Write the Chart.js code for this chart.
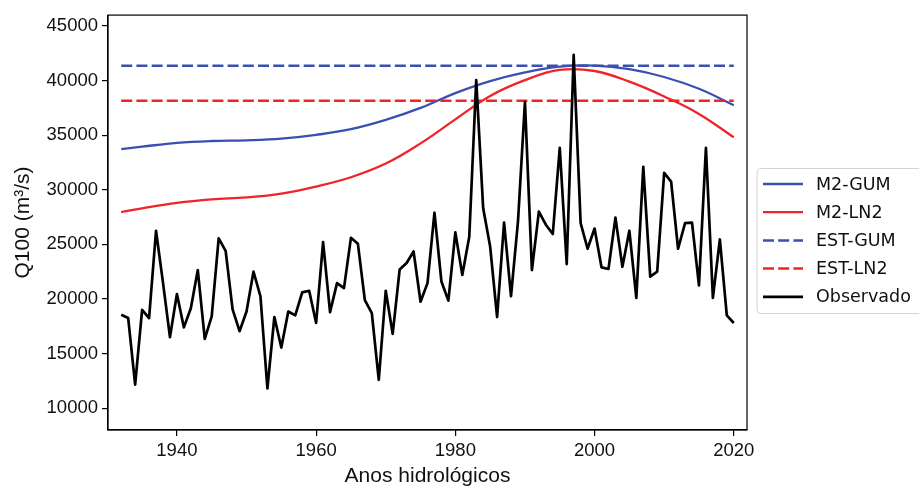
<!DOCTYPE html>
<html>
<head>
<meta charset="utf-8">
<script src="https://cdn.jsdelivr.net/npm/chart.js@4.4.1/dist/chart.umd.min.js"></script>
<style>
html,body{margin:0;padding:0;background:#fff;}
#wrap{width:919px;height:487px;position:relative;}
</style>
</head>
<body>
<div id="wrap"><canvas id="c" width="919" height="487"></canvas></div>
<script>
// ---------------- DATA ----------------
const firstYear = 1932;
const lastYear = 2020;
const observed = [
  18550,18250,12150,19000,18250,26250,21500,16500,
  20450,17400,19150,22650,16350,18400,25550,24400,19050,17050,
  18850,22500,20250,11800,18350,15550,18850,18500,20600,20750,
  17800,25200,18800,21450,21000,25600,25050,19900,18700,12600,
  20750,16800,22700,23300,24350,19750,21450,27900,21600,19850,
  26100,22200,25700,40050,28300,24800,18350,27000,20250,27100,
  38050,22650,28000,26800,25950,33850,23200,42350,26950,24600,
  26450,22900,22750,27450,22950,26250,20100,32100,22050,22500,
  31550,30750,24600,26950,27000,21250,33850,20100,25450,18500,
  17800
];
const curveYears = [1932,1935,1940,1945,1950,1955,1960,1965,1970,1975,1980,1985,1990,1995,2000,2005,2010,2015,2020];
const m2Gum = [33730,33950,34300,34470,34530,34680,35030,35550,36400,37500,38850,39950,40750,41280,41380,41050,40330,39250,37750];
const m2Ln2 = [27950,28300,28800,29120,29300,29650,30300,31150,32400,34250,36450,38600,40050,40980,40880,39900,38550,36950,34800];
const estYears = [1932, 2020];
const estGum = [41350, 41350];
const estLn2 = [38160, 38160];
const xTicks = [1940, 1960, 1980, 2000, 2020];
const yTicks = [10000, 15000, 20000, 25000, 30000, 35000, 40000, 45000];
const seriesLabels = ['M2-GUM', 'M2-LN2', 'EST-GUM', 'EST-LN2', 'Observado'];

// ---------------- BUILD ----------------
const years = [];
for (let y = firstYear; y <= lastYear; y++) years.push(y);
const pts = (xs, ys) => xs.map((x, i) => ({x: x, y: ys[i]}));

const BLUE = '#3a50b0';
const RED = '#f0232a';

const frameBorder = {
  id: 'frameBorder',
  afterDatasetsDraw(chart) {
    const a = chart.chartArea, ctx = chart.ctx;
    ctx.save();
    ctx.strokeStyle = '#000';
    ctx.lineWidth = 1.2;
    ctx.strokeRect(a.left, a.top, a.right - a.left, a.bottom - a.top);
    ctx.restore();
  }
};

const boxLegend = {
  id: 'boxLegend',
  afterDraw(chart) {
    const ctx = chart.ctx;
    ctx.save();
    ctx.beginPath();
    ctx.roundRect(757, 168.5, 190, 145, 4);
    ctx.fillStyle = 'rgba(255,255,255,0.9)';
    ctx.fill();
    ctx.strokeStyle = '#d4d4d4';
    ctx.lineWidth = 1;
    ctx.stroke();
    chart.data.datasets.forEach((ds, i) => {
      const cy = 184 + i * 28.2;
      ctx.beginPath();
      ctx.setLineDash(ds.borderDash || []);
      ctx.strokeStyle = ds.borderColor;
      ctx.lineWidth = ds.borderWidth;
      ctx.moveTo(763, cy);
      ctx.lineTo(803, cy);
      ctx.stroke();
      ctx.setLineDash([]);
      ctx.fillStyle = '#111';
      ctx.font = '17.5px "DejaVu Sans"';
      ctx.textBaseline = 'middle';
      ctx.textAlign = 'left';
      ctx.fillText(ds.label, 816, cy + 1);
    });
    ctx.restore();
  }
};

const tickFont = {family: '"Liberation Sans", Arial, sans-serif', size: 18.5};
const titleFont = {family: '"Liberation Sans", Arial, sans-serif', size: 21};

new Chart(document.getElementById('c'), {
  type: 'line',
  data: {
    datasets: [
      {label: seriesLabels[0], data: pts(curveYears, m2Gum), borderColor: BLUE, borderWidth: 2.3, pointRadius: 0, tension: 0.4, order: 4},
      {label: seriesLabels[1], data: pts(curveYears, m2Ln2), borderColor: RED, borderWidth: 2.3, pointRadius: 0, tension: 0.4, order: 3},
      {label: seriesLabels[2], data: pts(estYears, estGum), borderColor: BLUE, borderWidth: 2.5, borderDash: [11, 4.2], pointRadius: 0, order: 2},
      {label: seriesLabels[3], data: pts(estYears, estLn2), borderColor: RED, borderWidth: 2.5, borderDash: [11, 4.2], pointRadius: 0, order: 1},
      {label: seriesLabels[4], data: pts(years, observed), borderColor: '#000', borderWidth: 2.7, pointRadius: 0, borderJoinStyle: 'round', order: 0}
    ]
  },
  options: {
    responsive: false,
    animation: false,
    layout: {padding: {left: 0, right: 172, top: 13, bottom: 0}},
    plugins: {legend: {display: false}, tooltip: {enabled: false}},
    scales: {
      x: {
        type: 'linear',
        min: 1930.1,
        max: 2021.9,
        bounds: 'data',
        afterBuildTicks: s => { s.ticks = xTicks.map(v => ({value: v})); },
        afterFit: s => { s.height = 57; },
        ticks: {font: tickFont, color: '#111', padding: 4, maxRotation: 0, callback: v => String(v)},
        grid: {display: true, drawOnChartArea: false, drawTicks: true, tickLength: 6, color: '#000', lineWidth: 1.2},
        border: {display: true, color: '#000', width: 1.2},
        title: {display: true, text: 'Anos hidrológicos', font: titleFont, color: '#111', padding: {top: 0, bottom: -2}}
      },
      y: {
        type: 'linear',
        min: 8000,
        max: 46000,
        bounds: 'data',
        afterBuildTicks: s => { s.ticks = yTicks.map(v => ({value: v})); },
        afterFit: s => { s.width = 108; },
        ticks: {font: tickFont, color: '#111', padding: 4, callback: v => String(v)},
        grid: {display: true, drawOnChartArea: false, drawTicks: true, tickLength: 6, color: '#000', lineWidth: 1.2},
        border: {display: true, color: '#000', width: 1.2},
        title: {display: true, text: 'Q100 (m³/s)', font: titleFont, color: '#111', padding: {top: 11, bottom: 0}}
      }
    }
  },
  plugins: [frameBorder, boxLegend]
});
</script>
</body>
</html>
